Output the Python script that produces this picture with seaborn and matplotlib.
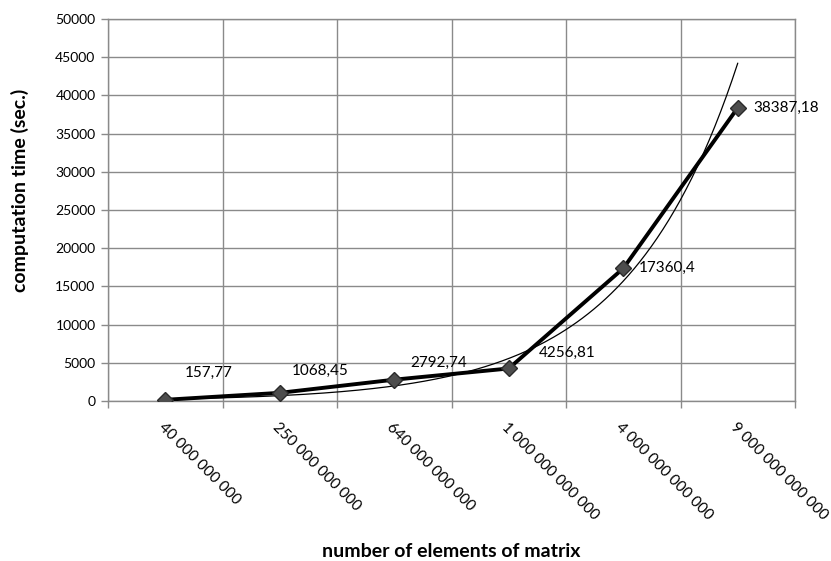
import numpy as np
import pandas as pd
import matplotlib
matplotlib.use("Agg")
import matplotlib.pyplot as plt
from matplotlib.ticker import FixedLocator, MultipleLocator
import seaborn as sns

# Matrix sizes and measured run times
sizes = ["40 000 000 000", "250 000 000 000", "640 000 000 000",
         "1 000 000 000 000", "4 000 000 000 000", "9 000 000 000 000"]
times = [157.77, 1068.45, 2792.74, 4256.81, 17360.4, 38387.18]
time_labels = ["157,77", "1068,45", "2792,74", "4256,81", "17360,4", "38387,18"]

sns.set_theme(style="white")
plt.rcParams["font.family"] = ["Lato", "DejaVu Sans"]
plt.rcParams["text.color"] = "black"
plt.rcParams["axes.labelcolor"] = "black"
plt.rcParams["xtick.labelcolor"] = "black"
plt.rcParams["ytick.labelcolor"] = "black"

df = pd.DataFrame({"pos": np.arange(len(sizes)), "time": times})

# Exponential trend fitted to the measurements
b, ln_a = np.polyfit(df["pos"], np.log(df["time"]), 1)
xs = np.linspace(0, len(sizes) - 1, 200)
trend = pd.DataFrame({"pos": xs, "time": np.exp(ln_a + b * xs)})

fig = plt.figure(figsize=(8.31, 5.61), dpi=100)
ax = fig.add_axes([0.130, 0.2852, 0.8267, 0.6809])

grid_c = "#8a8a8a"
ax.set_xlim(-0.5, len(sizes) - 0.5)
ax.set_ylim(0, 50000)
ax.yaxis.set_major_locator(MultipleLocator(5000))
ax.set_xticks(df["pos"])
ax.set_xticklabels(sizes, rotation=-45, ha="left", va="top",
                   rotation_mode="anchor", fontsize=11)
ax.xaxis.set_minor_locator(FixedLocator(np.arange(-0.5, len(sizes), 1.0)))
ax.tick_params(axis="x", which="major", length=0, pad=14)
ax.tick_params(axis="x", which="minor", length=5, color=grid_c, width=1,
               bottom=True, direction="out")
ax.tick_params(axis="y", length=5, color=grid_c, width=1, left=True,
               direction="out", labelsize=10, pad=4)
ax.grid(True, axis="y", which="major", color=grid_c, lw=1)
ax.grid(True, axis="x", which="minor", color=grid_c, lw=1)
ax.grid(False, axis="x", which="major")
for s in ax.spines.values():
    s.set_color(grid_c)
    s.set_linewidth(1)
ax.set_axisbelow(True)

sns.lineplot(data=trend, x="pos", y="time", ax=ax, color="black", lw=0.9,
             zorder=3)
sns.lineplot(data=df, x="pos", y="time", ax=ax, color="black", lw=2.8,
             marker="D", markersize=8, markerfacecolor="#4d4d4d",
             markeredgecolor="#2a2a2a", markeredgewidth=1, zorder=4)

offsets = [(20, 27), (12, 22), (16, 17), (30, 16), (16, 0), (16, 0)]
for (p, t), lab, (dx, dy) in zip(zip(df["pos"], df["time"]), time_labels, offsets):
    ax.annotate(lab, (p, t), xytext=(dx, dy), textcoords="offset pixels",
                ha="left", va="center", fontsize=11, color="black", zorder=5)

ax.set_xlabel("number of elements of matrix", fontsize=14,
              fontweight="bold")
ax.set_ylabel("computation time (sec.)", fontsize=14, fontweight="bold")
ax.xaxis.set_label_coords(0.5, -0.372)
ax.yaxis.set_label_coords(-0.115, 0.552)

fig.savefig("out.png", dpi=100)
